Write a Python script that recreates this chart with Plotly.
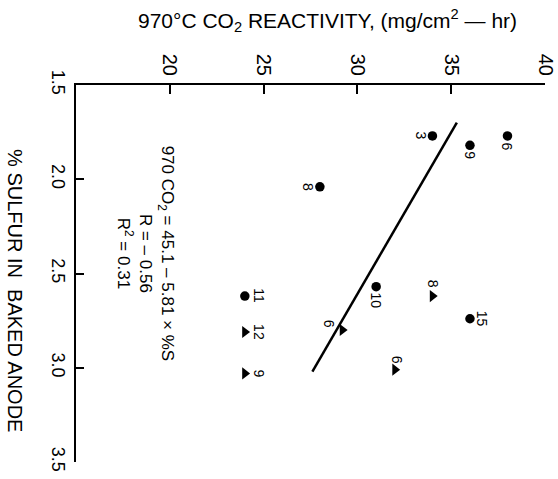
import plotly.graph_objects as go

# ---- data ----
circle_reactivity = [38, 36, 34, 28, 31, 36, 24]
circle_sulfur = [1.77, 1.82, 1.77, 2.04, 2.57, 2.74, 2.62]
circle_labels = ["6", "9", "3", "8", "10", "15", "11"]

tri_reactivity = [34, 29.2, 32, 24, 24]
tri_sulfur = [2.62, 2.80, 3.01, 2.81, 3.03]
tri_labels = ["8", "6", "6", "12", "9"]

fit_sulfur = [1.70, 3.02]
fit_reactivity = [35.3, 27.6]

x_ticks = [20, 25, 30, 35, 40]
y_ticks = [1.5, 2.0, 2.5, 3.0, 3.5]
y_ticktext = ["1.5", "2.0", "2.5", "3.0", "3.5"]

# ---- label offsets (image px: dx right, dy down) ----
circle_offsets = [(0, 11), (0, 10), (-11, 0), (-12, 0), (0, 14), (12, 0), (14, 0)]
tri_offsets = [(0, -12), (-13, -6), (2, -10), (14, 0), (14, 0)]

FONT = "Liberation Sans, Arial, Helvetica, sans-serif"

fig = go.Figure()
fig.add_trace(go.Scatter(x=fit_reactivity, y=fit_sulfur, mode="lines",
                         line=dict(color="black", width=2.5), hoverinfo="skip"))
fig.add_trace(go.Scatter(x=circle_reactivity, y=circle_sulfur, mode="markers",
                         marker=dict(symbol="circle", size=9.5, color="black")))
fig.add_trace(go.Scatter(x=tri_reactivity, y=tri_sulfur, mode="markers",
                         marker=dict(symbol="triangle-right", size=10.5, color="black")))

annotations = []
for xv, yv, t, (dx, dy) in zip(circle_reactivity, circle_sulfur, circle_labels, circle_offsets):
    annotations.append(dict(x=xv, y=yv, xref="x", yref="y", text=t, showarrow=False,
                            textangle=90, xshift=dx, yshift=-dy,
                            xanchor="center", yanchor="middle",
                            font=dict(family=FONT, size=14, color="black")))
for xv, yv, t, (dx, dy) in zip(tri_reactivity, tri_sulfur, tri_labels, tri_offsets):
    annotations.append(dict(x=xv, y=yv, xref="x", yref="y", text=t, showarrow=False,
                            textangle=90, xshift=dx, yshift=-dy,
                            xanchor="center", yanchor="middle",
                            font=dict(family=FONT, size=14, color="black")))

# equation block
annotations.append(dict(x=18.68, y=2.395, xref="x", yref="y",
                        text="970 CO<sub>2</sub> = 45.1 \u2013 5.81 \u00d7 %S<br>R = \u2013 0.56<br>R<sup>2</sup> = 0.31",
                        showarrow=False, textangle=90, align="center",
                        xanchor="center", yanchor="middle",
                        font=dict(family=FONT, size=17, color="black")))
# top title
annotations.append(dict(x=0.537, y=1.17, xref="paper", yref="paper",
                        text="970\u00b0C CO<sub>2</sub> REACTIVITY, (mg/cm<sup>2</sup> \u2014 hr)",
                        showarrow=False, xanchor="center", yanchor="middle",
                        font=dict(family=FONT, size=21, color="black")))
# left axis title
annotations.append(dict(x=-0.13, y=0.456, xref="paper", yref="paper",
                        text="% SULFUR IN  BAKED ANODE", textangle=90,
                        showarrow=False, xanchor="center", yanchor="middle",
                        font=dict(family=FONT, size=20, color="black")))

fig.update_layout(
    width=558, height=479,
    margin=dict(l=76, r=13, t=85, b=17),
    paper_bgcolor="white", plot_bgcolor="white",
    showlegend=False,
    annotations=annotations,
    xaxis=dict(side="top", range=[15, 40], tickvals=x_ticks, tickangle=90,
               showline=True, linecolor="black", linewidth=2,
               ticks="inside", ticklen=9, tickwidth=1.5, tickcolor="black",
               showgrid=False, zeroline=False, automargin=False,
               tickfont=dict(family=FONT, size=20, color="black")),
    yaxis=dict(range=[3.5, 1.5], tickvals=y_ticks, ticktext=y_ticktext, tickangle=90,
               showline=True, linecolor="black", linewidth=2,
               ticks="inside", ticklen=8, tickwidth=1.5, tickcolor="black",
               showgrid=False, zeroline=False, automargin=False,
               tickfont=dict(family=FONT, size=18, color="black")),
)

fig.write_html("out.html")
